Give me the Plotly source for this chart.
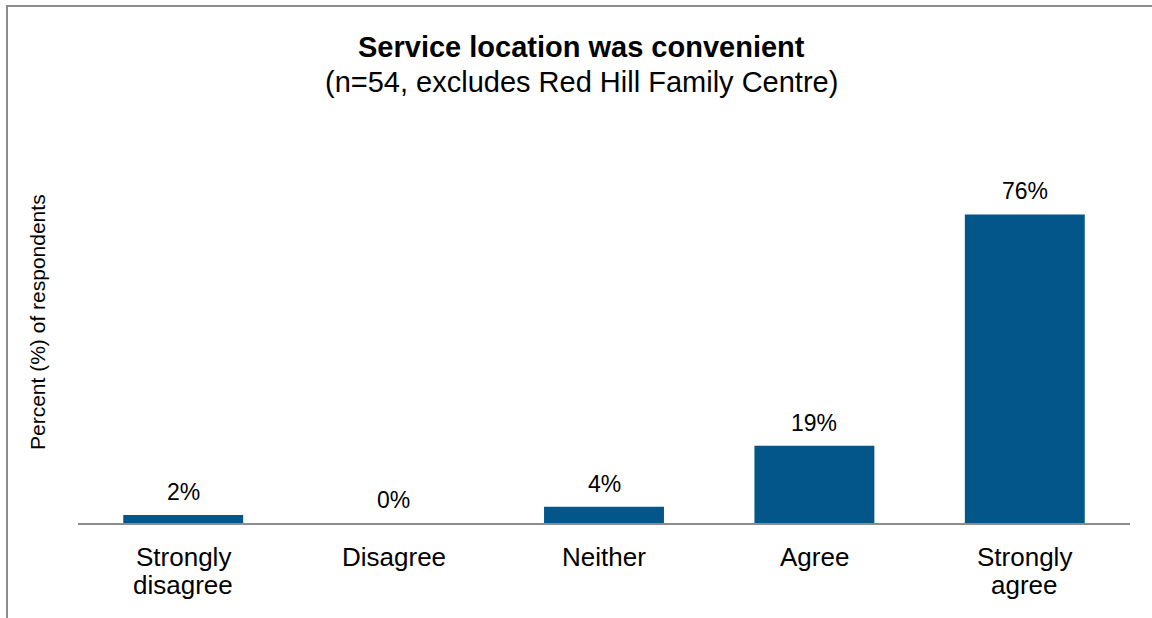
import plotly.graph_objects as go

# Survey responses: share of respondents per answer
categories = ["Strongly<br>disagree", "Disagree", "Neither", "Agree", "Strongly<br>agree"]
percents = [2, 0, 4, 19, 76]
value_labels = ["2%", "0%", "4%", "19%", "76%"]

title_text = "Service location was convenient"
subtitle_text = "(n=54, excludes Red Hill Family Centre)"
y_title = "Percent (%) of respondents"

W, H = 1152, 618
M_L, M_R, M_T, M_B = 78, 22, 121, 95
PLOT_W = W - M_L - M_R
PLOT_H = H - M_T - M_B

FONT = "Arial, Liberation Sans, sans-serif"
BAR_COLOR = "#02568A"
LINE_GRAY = "#8c8c8c"

fig = go.Figure(
    go.Bar(
        x=categories,
        y=percents,
        marker=dict(color=BAR_COLOR, line=dict(width=0)),
        width=0.57,
        hoverinfo="skip",
    )
)

annotations = []
# value labels above each bar
for cat, val, lab in zip(categories, percents, value_labels):
    annotations.append(dict(
        x=cat, y=val, xref="x", yref="y", text=lab, showarrow=False,
        yanchor="middle", yshift=23, font=dict(family=FONT, size=23, color="#000"),
    ))
# category labels below the axis, one annotation per line
for cat in categories:
    for i, line in enumerate(cat.split("<br>")):
        annotations.append(dict(
            x=cat, y=0, xref="x", yref="y", text=line, showarrow=False,
            yanchor="middle", yshift=-34 - 28 * i,
            font=dict(family=FONT, size=26, color="#000"),
        ))
# title and subtitle, centred on the chart frame
title_x = (581 - M_L) / PLOT_W
annotations.append(dict(
    x=title_x, y=1, xref="paper", yref="paper", text="<b>" + title_text + "</b>",
    showarrow=False, xanchor="center", yanchor="middle", yshift=74,
    font=dict(family=FONT, size=29, color="#000"),
))
annotations.append(dict(
    x=title_x, y=1, xref="paper", yref="paper", text=subtitle_text,
    showarrow=False, xanchor="center", yanchor="middle", yshift=39,
    font=dict(family=FONT, size=29, color="#000"),
))
# y-axis title
annotations.append(dict(
    x=(37 - M_L) / PLOT_W, y=0.5, xref="paper", yref="paper", text=y_title,
    showarrow=False, textangle=-90, xanchor="center", yanchor="middle",
    font=dict(family=FONT, size=21, color="#000"),
))

# outer chart frame
shapes = [dict(
    type="rect", xref="paper", yref="paper",
    x0=(7 - M_L) / PLOT_W, x1=1.2,
    y0=-0.5, y1=(H - M_B - 6) / PLOT_H,
    line=dict(color=LINE_GRAY, width=2), fillcolor="rgba(0,0,0,0)",
)]

fig.update_layout(
    width=W, height=H,
    margin=dict(l=M_L, r=M_R, t=M_T, b=M_B),
    paper_bgcolor="white", plot_bgcolor="white",
    showlegend=False,
    bargap=0.43,
    annotations=annotations,
    shapes=shapes,
    xaxis=dict(
        showticklabels=False, ticks="", showgrid=False, zeroline=False,
        showline=True, linecolor=LINE_GRAY, linewidth=1.5,
        fixedrange=True,
    ),
    yaxis=dict(
        range=[0, 99], visible=False, showgrid=False, zeroline=False,
        fixedrange=True,
    ),
)

fig.write_html("out.html", config={"displayModeBar": False})
